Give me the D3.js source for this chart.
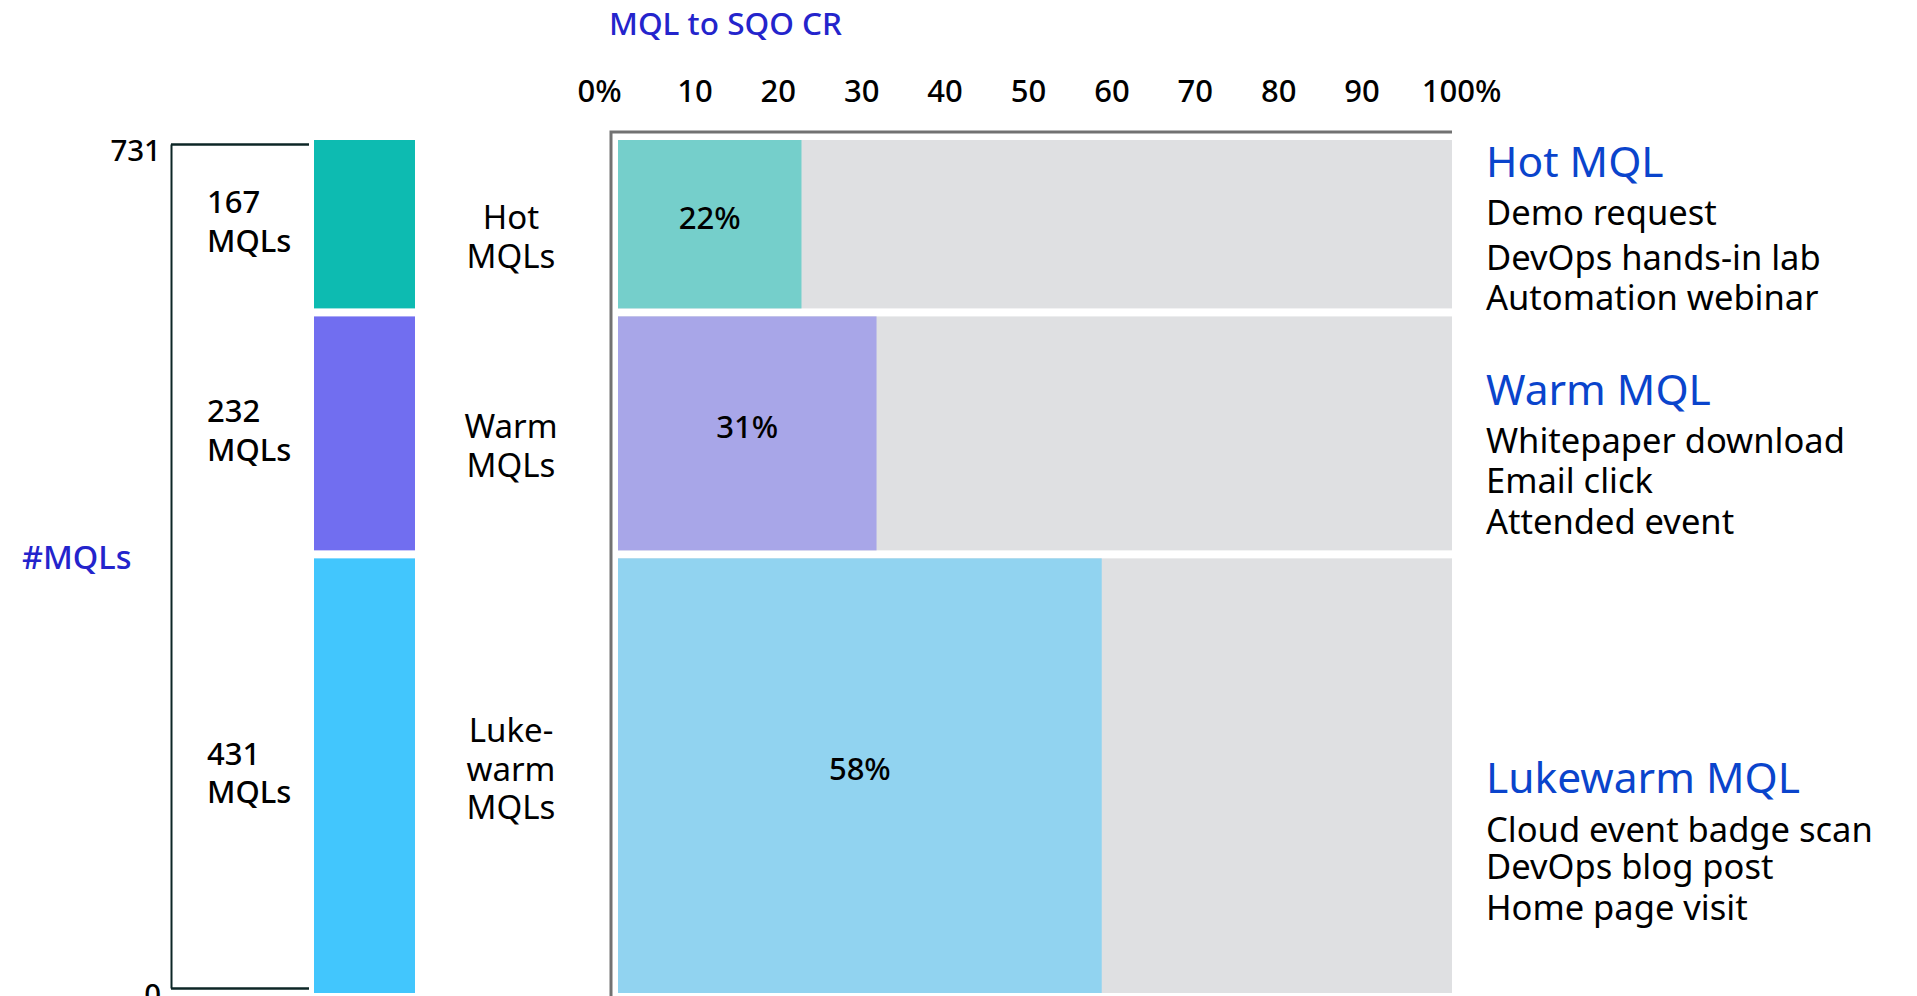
<!DOCTYPE html>
<html>
<head>
<meta charset="utf-8">
<title>MQL to SQO conversion by MQL temperature</title>
<script src="https://cdn.jsdelivr.net/npm/d3@7/dist/d3.min.js"></script>
<style>
  html, body { margin: 0; padding: 0; background: #ffffff; }
  svg { display: block; }
  text { font-family: "Noto Sans", "Open Sans", sans-serif; }
</style>
</head>
<body>
<svg id="chart" width="1917" height="996"></svg>
<script>
// ---- data ----
const categories = ["Hot", "Warm", "Lukewarm"];
const mqlCounts = [167, 232, 431];
const conversionRates = [22, 31, 58];
const countAxisTicks = [0, 731];
const rateTicks = [0, 10, 20, 30, 40, 50, 60, 70, 80, 90, 100];
const categoryLabels = [["Hot", "MQLs"], ["Warm", "MQLs"], ["Luke-", "warm", "MQLs"]];
const legendTitles = ["Hot MQL", "Warm MQL", "Lukewarm MQL"];
const legendItems = [
  ["Demo request", "DevOps hands-in lab", "Automation webinar"],
  ["Whitepaper download", "Email click", "Attended event"],
  ["Cloud event badge scan", "DevOps blog post", "Home page visit"]
];

// ---- layout & style ----
const W = 1917, H = 996;
const FONT = "'Noto Sans', 'Open Sans', sans-serif";
const bandTop = 140, bandBottom = 993, bandGap = 8;
const countColors = ["#0dbbb1", "#716ef0", "#42c6fd"];
const rateColors = ["#75cfcb", "#a8a6e8", "#91d3f0"];
const trackColor = "#dfe0e2";
const titleBlue = "#2424cc";
const legendBlue = "#0a44cc";
const legendBaselines = [177, 405, 793];
const legendLineGaps = [[48, 45, 40], [48, 40, 41], [49, 37, 41]];

const svg = d3.select("#chart");

// stacked vertical bands sized by MQL count
const total = d3.sum(mqlCounts);
const yCount = d3.scaleLinear()
  .domain([0, total])
  .range([0, bandBottom - bandTop - bandGap * (categories.length - 1)]);
const cum = d3.cumsum(mqlCounts);
const bands = categories.map((c, i) => {
  const start = i === 0 ? 0 : cum[i - 1];
  const y0 = bandTop + yCount(start) + i * bandGap;
  const y1 = y0 + yCount(mqlCounts[i]);
  return { cat: c, i, y0, y1, mid: (y0 + y1) / 2 };
});

// conversion-rate scale
const x = d3.scaleLinear().domain([0, 100]).range([618, 1452]);

// ---- title ----
svg.append("text")
  .attr("x", 609).attr("y", 35)
  .attr("fill", titleBlue)
  .attr("font-size", 31.5).attr("font-weight", 500)
  .text("MQL to SQO CR");

// ---- top rate axis ----
const axisTop = d3.axisTop(x)
  .tickValues(rateTicks)
  .tickSize(0)
  .tickPadding(0)
  .tickFormat(d => (d === 0 || d === 100) ? d + "%" : d);
const ga = svg.append("g").attr("transform", "translate(0,102)").call(axisTop);
ga.select(".domain").remove();
ga.selectAll("text")
  .attr("dx", d => d === 0 ? -19 : d === 100 ? 9 : -7)
  .attr("fill", "#000")
  .attr("font-size", 31)
  .attr("font-weight", 500)
  .style("font-family", FONT);

// plot frame (top and left rules)
svg.append("path")
  .attr("d", d3.line()([[611, H], [611, 132], [x(100), 132]]))
  .attr("fill", "none")
  .attr("stroke", "#727272")
  .attr("stroke-width", 3);

// ---- rate bars ----
const rows = svg.append("g").selectAll("g").data(bands).join("g");
rows.append("rect")
  .attr("x", x(0)).attr("width", x(100) - x(0))
  .attr("y", d => d.y0).attr("height", d => d.y1 - d.y0)
  .attr("fill", trackColor);
rows.append("rect")
  .attr("x", x(0)).attr("width", d => x(conversionRates[d.i]) - x(0))
  .attr("y", d => d.y0).attr("height", d => d.y1 - d.y0)
  .attr("fill", d => rateColors[d.i]);
rows.append("text")
  .attr("x", d => (x(0) + x(conversionRates[d.i])) / 2)
  .attr("y", d => d.mid - 6.5)
  .attr("dy", "0.35em")
  .attr("text-anchor", "middle")
  .attr("font-size", 31).attr("font-weight", 500)
  .attr("fill", "#000")
  .text(d => conversionRates[d.i] + "%");

// ---- count bars ----
const countG = svg.append("g");
countG.selectAll("rect").data(bands).join("rect")
  .attr("x", 314).attr("width", 101)
  .attr("y", d => d.y0).attr("height", d => d.y1 - d.y0)
  .attr("fill", d => countColors[d.i]);

// count labels
countG.selectAll("text.count").data(bands).join("text")
  .attr("class", "count")
  .attr("x", 207)
  .attr("font-size", 31).attr("font-weight", 500)
  .attr("fill", "#000")
  .each(function (d) {
    const t = d3.select(this);
    const lines = [String(mqlCounts[d.i]), "MQLs"];
    lines.forEach((s, k) => {
      t.append("tspan").attr("x", 207).attr("y", d.mid - 11 + k * 38.4).text(s);
    });
  });

// category labels
svg.append("g").selectAll("text").data(bands).join("text")
  .attr("text-anchor", "middle")
  .attr("font-size", 33)
  .attr("fill", "#000")
  .each(function (d) {
    const t = d3.select(this);
    const lines = categoryLabels[d.i];
    const n = lines.length;
    lines.forEach((s, k) => {
      t.append("tspan")
        .attr("x", 511)
        .attr("y", d.mid + 43.4 - (n - 1 - k) * 38.4)
        .text(s);
    });
  });

// ---- left count axis ----
const yAxisScale = d3.scaleLinear().domain([0, 731]).range([988, 144]);
const axisLeft = d3.axisLeft(yAxisScale)
  .tickValues(countAxisTicks)
  .tickSizeInner(-(309 - 171))
  .tickSizeOuter(0)
  .tickPadding(10);
const gl = svg.append("g").attr("transform", "translate(171,0)").call(axisLeft);
gl.select(".domain").attr("stroke", "#0c2626").attr("stroke-width", 2);
gl.selectAll(".tick line").attr("stroke", "#0c2626").attr("stroke-width", 2.5);
gl.selectAll(".tick text")
  .attr("dy", "0.55em")
  .attr("fill", "#000")
  .attr("font-size", 29.5)
  .attr("font-weight", 500)
  .style("font-family", FONT);

svg.append("text")
  .attr("x", 22).attr("y", 569)
  .attr("fill", titleBlue)
  .attr("font-size", 32.5).attr("font-weight", 500)
  .text("#MQLs");

// ---- legend annotations ----
const leg = svg.append("g").selectAll("g").data(bands).join("g");
leg.append("text")
  .attr("x", 1486)
  .attr("y", d => legendBaselines[d.i])
  .attr("fill", legendBlue)
  .attr("font-size", 42.5)
  .text(d => legendTitles[d.i]);
leg.each(function (d) {
  const offs = d3.cumsum(legendLineGaps[d.i]);
  d3.select(this).selectAll("text.item").data(legendItems[d.i]).join("text")
    .attr("class", "item")
    .attr("x", 1486)
    .attr("y", (s, k) => legendBaselines[d.i] + offs[k])
    .attr("fill", "#000")
    .attr("font-size", 34.5)
    .text(s => s);
});
</script>
</body>
</html>
